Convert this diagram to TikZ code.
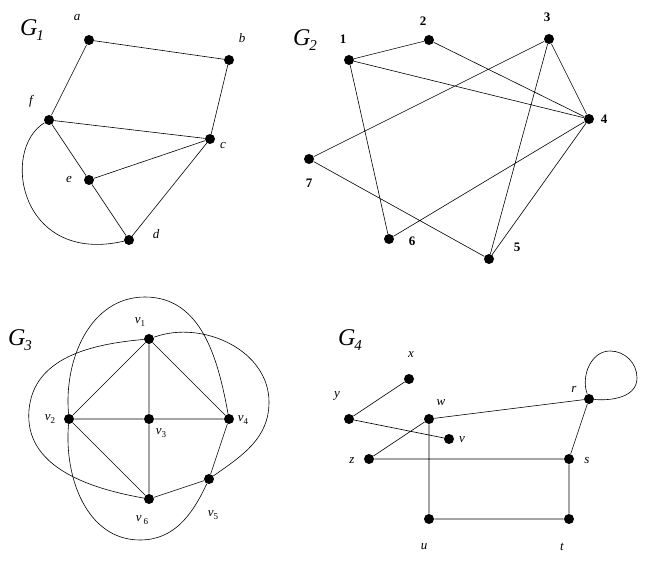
\documentclass[tikz,border=0pt]{standalone}
\usepackage{fontspec}
\setmainfont{Liberation Serif}
\begin{document}
\begin{tikzpicture}[x=1pt,y=-1pt,
  vtx/.style={circle,fill=black,inner sep=0pt,minimum size=10pt},
  lbl/.style={font=\fontsize{13}{13}\selectfont\itshape,inner sep=0pt},
  nlbl/.style={font=\fontsize{13}{13}\selectfont\bfseries,inner sep=0pt},
  glbl/.style={font=\fontsize{24}{24}\selectfont\itshape,inner sep=0pt},
  every path/.style={line width=0.6pt}]
\useasboundingbox (0,0) rectangle (651,561);
% G1
\node[glbl] (g1) at (32,30) {G\kern-1pt\raisebox{-5pt}{\fontsize{15}{15}\selectfont 1}};
\node[vtx] (a) at (89,40) {}; \node[lbl] (la) at (77,18) {a};
\node[vtx] (b) at (229,60) {}; \node[lbl] (lb) at (242,38) {b};
\node[vtx] (c) at (210,139) {}; \node[lbl] (lc) at (223,146) {c};
\node[vtx] (f) at (49,120) {}; \node[lbl] (lf) at (31,101) {f};
\node[vtx] (e) at (89,180) {}; \node[lbl] (le) at (69,180) {e};
\node[vtx] (d) at (129,240) {}; \node[lbl] (ld) at (156,234) {d};
\draw (a)--(b) (b)--(c) (a)--(f) (f)--(c) (e)--(c) (f)--(e) (e)--(d) (c)--(d);
\draw (f) .. controls (0,150) and (20,265) .. (d);
% G2
\node[glbl] (g2) at (305,40) {G\kern-1pt\raisebox{-5pt}{\fontsize{15}{15}\selectfont 2}};
\node[vtx] (n1) at (349,60) {}; \node[nlbl] (l1) at (343,39) {1};
\node[vtx] (n2) at (429,40) {}; \node[nlbl] (l2) at (423,21) {2};
\node[vtx] (n3) at (549,39) {}; \node[nlbl] (l3) at (547,17) {3};
\node[vtx] (n4) at (589,119) {}; \node[nlbl] (l4) at (604,119) {4};
\node[vtx] (n7) at (309,159) {}; \node[nlbl] (l7) at (309,183) {7};
\node[vtx] (n6) at (389,239) {}; \node[nlbl] (l6) at (412,241) {6};
\node[vtx] (n5) at (489,259) {}; \node[nlbl] (l5) at (517,247) {5};
\draw (n1)--(n2) (n2)--(n4) (n1)--(n4) (n3)--(n4) (n1)--(n6) (n3)--(n7) (n3)--(n5) (n7)--(n5) (n6)--(n4) (n4)--(n5);
% G3
\node[glbl] (g3) at (20,340) {G\kern-1pt\raisebox{-5pt}{\fontsize{15}{15}\selectfont 3}};
\node[vtx] (v1) at (149,339) {}; \node[lbl] (lv1) at (140,322) {v\raisebox{-3pt}{\fontsize{9}{9}\selectfont\upshape 1}};
\node[vtx] (v2) at (69,419) {}; \node[lbl] (lv2) at (50,419) {v\raisebox{-3pt}{\fontsize{9}{9}\selectfont\upshape 2}};
\node[vtx] (v3) at (149,419) {}; \node[lbl] (lv3) at (161,433) {v\raisebox{-3pt}{\fontsize{9}{9}\selectfont\upshape 3}};
\node[vtx] (v4) at (229,419) {}; \node[lbl] (lv4) at (243,420) {v\raisebox{-3pt}{\fontsize{9}{9}\selectfont\upshape 4}};
\node[vtx] (v5) at (209,479) {}; \node[lbl] (lv5) at (213,515) {v\raisebox{-3pt}{\fontsize{9}{9}\selectfont\upshape 5}};
\node[vtx] (v6) at (149,499) {}; \node[lbl] (lv6) at (142,520) {v\kern2pt\raisebox{-3pt}{\fontsize{9}{9}\selectfont\upshape 6}};
\draw (v1)--(v2) (v1)--(v3) (v1)--(v4) (v2)--(v3) (v3)--(v4) (v2)--(v6) (v3)--(v6) (v4)--(v5) (v6)--(v5);
\draw (v2) to[out=95,in=180] (145,297) to[out=0,in=100] (229,419);
\draw (v1) to[out=185,in=85] (29,410) to[out=-95,in=170] (v6);
\draw (v1) to[out=20,in=90] (269,402) to[out=-90,in=35] (v5);
\draw (v2) to[out=-95,in=180] (140,540) to[out=0,in=-115] (v5);
% G4
\node[glbl] (g4) at (350,340) {G\kern-1pt\raisebox{-5pt}{\fontsize{15}{15}\selectfont 4}};
\node[vtx] (x) at (409,379) {}; \node[lbl] (lx) at (411,355) {x};
\node[vtx] (y) at (349,419) {}; \node[lbl] (ly) at (337,396) {y};
\node[vtx] (w) at (429,419) {}; \node[lbl] (lw) at (441,403) {w};
\node[vtx] (v) at (449,439) {}; \node[lbl] (lv) at (462,440) {v};
\node[vtx] (r) at (589,399) {}; \node[lbl] (lr) at (574,389) {r};
\node[vtx] (z) at (369,459) {}; \node[lbl] (lz) at (352,461) {z};
\node[vtx] (s) at (569,459) {}; \node[lbl] (ls) at (587,461) {s};
\node[vtx] (u) at (429,519) {}; \node[lbl] (lu) at (424,547) {u};
\node[vtx] (t) at (569,519) {}; \node[lbl] (lt) at (562,547) {t};
\draw (y)--(x) (y)--(v) (w)--(r) (z)--(w) (z)--(s) (r)--(s) (w)--(u) (u)--(t) (t)--(s);
\draw (r) to[out=110,in=180] (610,351) to[out=0,in=90] (637,378) to[out=-90,in=-5] (r);
\end{tikzpicture}
\end{document}
